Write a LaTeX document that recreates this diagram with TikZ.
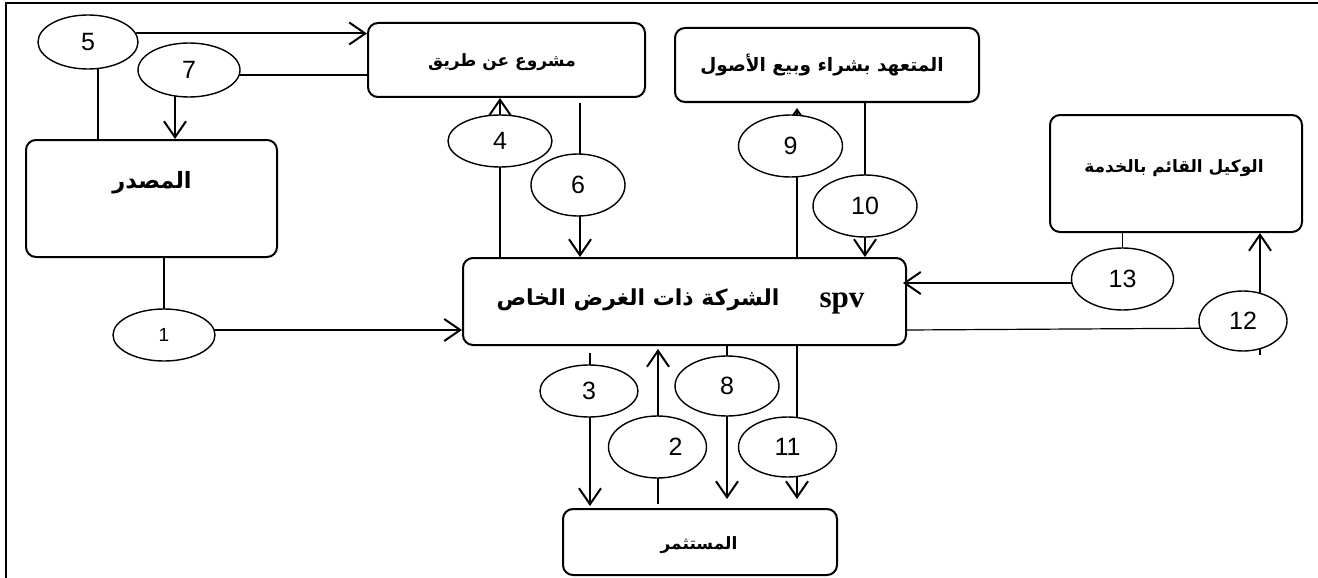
\documentclass[tikz,border=0pt]{standalone}
\usepackage{fontspec}
\setmainfont{Liberation Serif}
\newfontfamily\arabicfont[Script=Arabic]{DejaVu Sans}
\newfontfamily\numfont{Liberation Sans}
\TeXXeTstate=1
\usetikzlibrary{shapes.geometric,arrows.meta,calc}
\pgfdeclarelayer{bg}
\pgfsetlayers{bg,main}

\begin{document}
\begin{tikzpicture}[x=1pt,y=-1pt,
  box/.style={draw, line width=2pt, rounded corners=10pt, inner sep=0pt},
  oval/.style={draw, ellipse, line width=1.4pt, fill=white, inner sep=0pt,
    font=\numfont\fontsize{25}{25}\selectfont},
  arr/.style={line width=2pt, -{Straight Barb[length=16pt,width=22pt]}},
  link/.style={line width=1.2pt},
  ar/.style={inner sep=0pt},
  arsize/.style={font=\arabicfont\bfseries\fontsize{#1}{#1}\selectfont}
]
\useasboundingbox (0,0) rectangle (1318,578);

% frame
\draw[line width=2pt] (6,590) -- (6,3) -- (1330,3);

% boxes
\node[box, minimum width=251pt, minimum height=117pt] (src) at (151.5,198.5) {};
\node[box, minimum width=277pt, minimum height=74pt] (mashru) at (506.5,60) {};
\node[box, minimum width=304pt, minimum height=74pt] (mutaahhid) at (827,65) {};
\node[box, minimum width=252pt, minimum height=117pt] (wakil) at (1176,173.5) {};
\node[box, minimum width=443pt, minimum height=87pt] (spv) at (684.5,301.5) {};
\node[box, minimum width=274pt, minimum height=66pt] (inv) at (700,542) {};

% box labels
\node[ar, arsize=22.5] (tsrc) at (152,183) {\beginR المصدر\endR};
\node[ar, arsize=17] (tmashru) at (502,62) {\beginR مشروع عن طريق\endR};
\node[ar, arsize=18.5] (tmut) at (822,65) {\beginR المتعهد بشراء وبيع الأصول\endR};
\node[ar, arsize=17] (twakil) at (1174,168) {\beginR الوكيل القائم بالخدمة\endR};
\node[ar, arsize=22] (tspv) at (638,300) {\beginR الشركة ذات الغرض الخاص\endR};
\node[font=\bfseries\fontsize{31}{31}\selectfont, inner sep=0pt, anchor=base] (tspvl) at (842,307) {spv};
\node[ar, arsize=17] (tinv) at (699,545) {\beginR المستثمر\endR};

% numbered ovals
\node[oval, minimum width=100pt, minimum height=54pt] (e5) at (88,42) {5};
\node[oval, minimum width=102pt, minimum height=54pt] (e7) at (189,70) {7};
\node[oval, minimum width=104pt, minimum height=52pt] (e4) at (500,141) {4};
\node[oval, minimum width=94pt, minimum height=62pt] (e6) at (578,185) {6};
\node[oval, minimum width=104pt, minimum height=62pt] (e9) at (790.5,146) {9};
\node[oval, minimum width=104pt, minimum height=62pt] (e10) at (865,206) {10};
\node[oval, minimum width=102pt, minimum height=62pt] (e13) at (1122.5,279) {13};
\node[oval, minimum width=88pt, minimum height=60pt] (e12) at (1243,321) {12};
\node[oval, minimum width=102pt, minimum height=52pt, font=\numfont\fontsize{19}{19}\selectfont] (e1) at (164,335) {1};
\node[oval, minimum width=98pt, minimum height=52pt] (e3) at (589,391) {3};
\node[oval, minimum width=104pt, minimum height=60pt] (e8) at (727,386) {8};
\node[oval, minimum width=98pt, minimum height=62pt] (e2) at (657.5,447) {\hspace*{36pt}2};
\node[oval, minimum width=98pt, minimum height=60pt] (e11) at (787.5,447) {11};

% connectors
\begin{pgfonlayer}{bg}
  % 5
  \draw[arr] (e5.10) -- (e5.10 -| mashru.west);
  \draw[link] ([xshift=10pt]e5.center) -- ([xshift=10pt]e5.center |- src.north);
  % 7
  \draw[link] ([yshift=-5pt]e7.center) -- ([yshift=-5pt]e7.center -| mashru.west);
  \draw[arr] ([xshift=-14pt]e7.center) -- ([xshift=-14pt]e7.center |- src.north);
  % 4
  \draw[arr] (e4.center |- spv.north) -- (e4.center |- mashru.south);
  % 6
  \draw[arr] ($(e6.center |- mashru.south)+(2,5)$) -- ($(e6.center |- spv.north)+(2,0)$);
  % 9
  \draw[arr, shorten >=5pt] ([xshift=6.5pt]e9.center |- spv.north) -- ([xshift=6.5pt]e9.center |- mutaahhid.south);
  % 10
  \draw[arr] (e10.center |- mutaahhid.south) -- (e10.center |- spv.north);
  % 13
  \draw[link] (e13.center |- wakil.south) -- (e13.center);
  \draw[arr, shorten >=-4pt] ([yshift=-4pt]e13.center) -- ([yshift=-4pt]e13.center -| spv.east);
  % 12
  \draw[link] ([yshift=-7pt]e12.center) -- ([yshift=-9pt]e12.center -| spv.east);
  \draw[arr] ($(e12.center |- e12.south)+(17,3)$) -- ([xshift=17pt]e12.center |- wakil.south);
  % 1
  \draw[link] (e1.center |- src.south) -- (e1.center);
  \draw[arr] ([yshift=5pt]e1.center) -- ([yshift=5pt]e1.center -| spv.west);
  % 3
  \draw[arr] ($(e3.center |- spv.south)+(1,7)$) -- ($(e3.center |- inv.north)+(1,-2)$);
  % 2
  \draw[arr] ($(e2.center |- inv.north)+(0.5,-4)$) -- ($(e2.center |- spv.south)+(0.5,3)$);
  % 8
  \draw[arr] (e8.center |- spv.south) -- ($(e8.center |- inv.north)+(0,-9)$);
  % 11
  \draw[arr] ([xshift=9.5pt]e11.center |- spv.south) -- ($([xshift=9.5pt]e11.center |- inv.north)+(0,-9)$);
\end{pgfonlayer}
\end{tikzpicture}
\end{document}
